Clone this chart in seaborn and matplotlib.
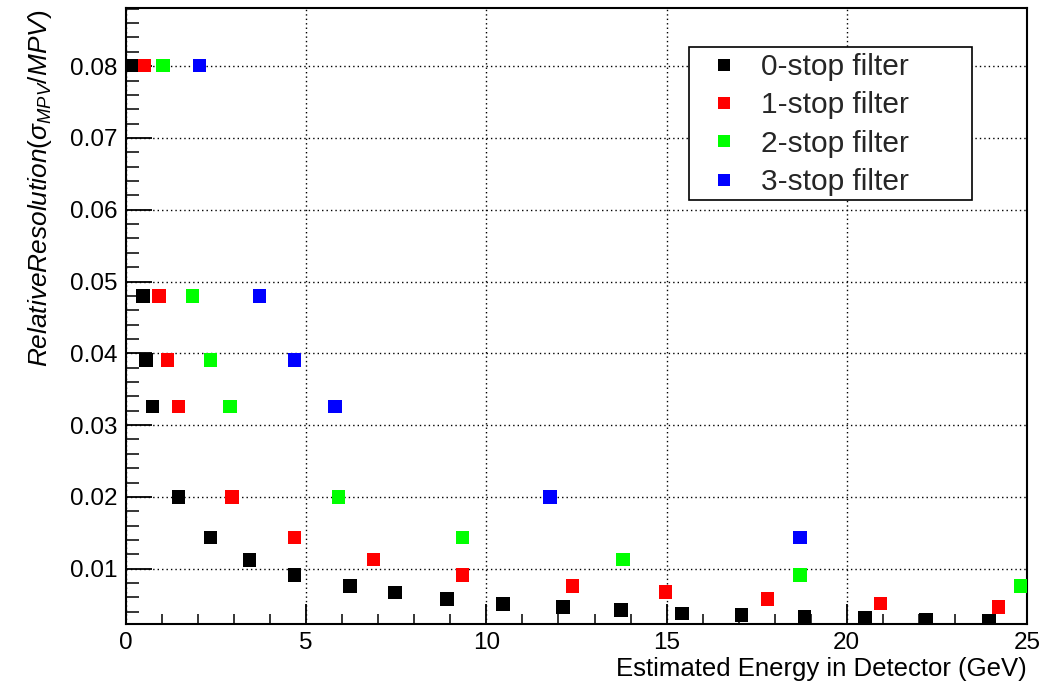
import numpy as np
import pandas as pd
import matplotlib
matplotlib.use("Agg")
import matplotlib.pyplot as plt
import seaborn as sns
from matplotlib.lines import Line2D
from matplotlib.patches import Rectangle
from matplotlib.ticker import MultipleLocator

# ---------------- data ----------------
series_names = ["0-stop filter", "1-stop filter", "2-stop filter", "3-stop filter"]
series_colors = ["#000000", "#ff0000", "#00ff00", "#0000ff"]

energy_0 = [0.20, 0.47, 0.56, 0.74, 1.46, 2.35, 3.43, 4.68, 6.22, 7.46, 8.90,
            10.46, 12.13, 13.73, 15.43, 17.08, 18.83, 20.50, 22.20, 23.94]
res_0 = [0.0801, 0.0480, 0.0391, 0.0326, 0.0200, 0.01437, 0.0112, 0.00916, 0.00763,
         0.00669, 0.00581, 0.00511, 0.00469, 0.00423, 0.00376, 0.00358, 0.00334,
         0.00311, 0.00287, 0.00269]

energy_1 = [0.51, 0.92, 1.15, 1.46, 2.94, 4.68, 6.87, 9.34, 12.39, 14.97, 17.80, 20.94, 24.21]
res_1 = [0.0801, 0.0480, 0.0391, 0.0326, 0.0200, 0.01437, 0.01126, 0.00916, 0.00763,
         0.00674, 0.00581, 0.00516, 0.00469]

energy_2 = [1.02, 1.85, 2.35, 2.89, 5.90, 9.34, 13.79, 18.70, 24.84]
res_2 = [0.0801, 0.0480, 0.0391, 0.0326, 0.0200, 0.01437, 0.01126, 0.00916, 0.00763]

energy_3 = [2.04, 3.70, 4.68, 5.80, 11.76, 18.70]
res_3 = [0.0801, 0.0480, 0.0391, 0.0326, 0.0200, 0.01437]

x_ticks = [0, 5, 10, 15, 20, 25]
y_ticks = [0.01, 0.02, 0.03, 0.04, 0.05, 0.06, 0.07, 0.08]

x_label = "Estimated Energy in Detector (GeV)"
y_label = r"$Relative Resolution(\sigma_{MPV}/MPV)$"

frames = []
for name, xs, ys in zip(series_names,
                        [energy_0, energy_1, energy_2, energy_3],
                        [res_0, res_1, res_2, res_3]):
    frames.append(pd.DataFrame({"energy": xs, "resolution": ys, "filter": name}))
df = pd.concat(frames, ignore_index=True)

# ---------------- style ----------------
sns.set_theme(style="white")
plt.rcParams["font.family"] = ["Liberation Sans", "DejaVu Sans"]
plt.rcParams["mathtext.fontset"] = "custom"
plt.rcParams["mathtext.it"] = "Liberation Sans:italic"
plt.rcParams["mathtext.rm"] = "Liberation Sans"
plt.rcParams["mathtext.sf"] = "Liberation Sans"

W, H = 1056, 683
fig = plt.figure(figsize=(W / 100, H / 100), dpi=100)
left, right, top, bottom = 126, 1027, 8, 624
ax = fig.add_axes([left / W, (H - bottom) / H, (right - left) / W, (bottom - top) / H])

def ax_x(px):
    return (px - left) / (right - left)

def ax_y(py):
    return (bottom - py) / (bottom - top)

palette = dict(zip(series_names, series_colors))
sns.scatterplot(data=df, x="energy", y="resolution", hue="filter",
                hue_order=series_names, palette=palette, marker="s", s=95,
                linewidth=0, edgecolor="none", ax=ax, zorder=3, legend=False)

ax.set_xlim(0, 25)
ax.set_ylim(0.0023, 0.0881)
ax.set_xticks(x_ticks)
ax.set_yticks(y_ticks)
ax.set_yticklabels([f"{v:.2f}" for v in y_ticks])
ax.xaxis.set_minor_locator(MultipleLocator(1))
ax.yaxis.set_minor_locator(MultipleLocator(0.002))

ax.grid(True, which="major", linestyle=(0, (1, 2.2)), color="black", linewidth=1.0)
ax.set_axisbelow(True)

for sp in ax.spines.values():
    sp.set_color("black")
    sp.set_linewidth(1.5)
    sp.set_visible(True)

ax.tick_params(axis="y", which="major", direction="in", length=18.5, width=1.3,
               labelsize=17.5, pad=6, colors="black", left=True, right=False)
ax.tick_params(axis="y", which="minor", direction="in", length=9.3, width=1.3,
               left=True, right=False)
ax.tick_params(axis="x", which="major", direction="in", length=14.4, width=1.3,
               labelsize=17.5, pad=6, colors="black", bottom=True, top=False)
ax.tick_params(axis="x", which="minor", direction="in", length=7.2, width=1.3,
               bottom=True, top=False)

ax.set_xlabel(x_label, loc="right", fontsize=18.5, labelpad=2, color="black")
ax.set_ylabel(y_label, fontsize=18.9, color="black", loc="top")
ax.yaxis.set_label_coords(-0.080, 0.997)

# legend box (ROOT style: square frame with white fill)
box = Rectangle((ax_x(689), ax_y(200)), ax_x(972) - ax_x(689), ax_y(47) - ax_y(200),
                transform=ax.transAxes, facecolor="white", edgecolor="black",
                linewidth=1.2, zorder=4, clip_on=False)
ax.add_patch(box)

handles = [Line2D([0], [0], marker="s", linestyle="none", markersize=9,
                  markerfacecolor=c, markeredgewidth=0) for c in series_colors]
leg = ax.legend(handles, series_names, loc="upper left",
                bbox_to_anchor=(ax_x(709), ax_y(53)),
                borderaxespad=0, frameon=False, prop={"size": 21.5},
                handlelength=1.0, handletextpad=0.74, borderpad=0.0,
                labelspacing=0.35)
leg.set_zorder(5)

fig.savefig("out.png", dpi=100, facecolor="white")
